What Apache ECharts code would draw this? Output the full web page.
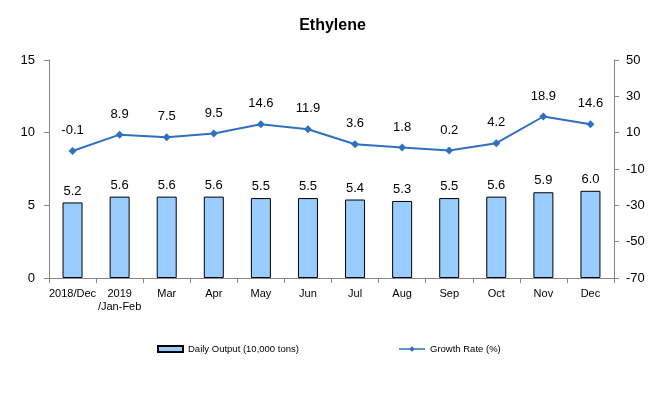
<!DOCTYPE html>
<html><head><meta charset="utf-8">
<script src="https://cdn.jsdelivr.net/npm/echarts@6/dist/echarts.min.js"></script>
<style>html,body{margin:0;padding:0;background:#fff}#c{width:665px;height:395px}</style>
</head><body><div id="c"></div>
<script>
const categories = ['2018/Dec','2019\n/Jan-Feb','Mar','Apr','May','Jun','Jul','Aug','Sep','Oct','Nov','Dec'];
const dailyOutput = [5.2,5.6,5.6,5.6,5.5,5.5,5.4,5.3,5.5,5.6,5.9,6.0];
const growthRate = [-0.1,8.9,7.5,9.5,14.6,11.9,3.6,1.8,0.2,4.2,18.9,14.6];
const leftTicks = {min:0,max:15,interval:5};
const rightTicks = {min:-70,max:50,interval:20};

const chart = echarts.init(document.getElementById('c'));
const font = 'Arial, "Liberation Sans", sans-serif';
const legendText = {fontSize:9.5,color:'#000',fontFamily:font};
chart.setOption({
  animation:false,
  textStyle:{fontFamily:font},
  title:{text:'Ethylene',left:'center',top:13,textStyle:{fontSize:16,fontWeight:'bold',color:'#000',fontFamily:font}},
  grid:{left:49,right:51,top:60,bottom:117},
  legend:[
    {top:344,left:157,itemWidth:25,itemHeight:6,itemGap:0,padding:0,textStyle:legendText,
     data:[{name:'Daily Output (10,000 tons)',icon:'rect'}]},
    {top:344,left:399,itemWidth:26,itemHeight:7,itemGap:0,padding:0,textStyle:legendText,
     data:[{name:'Growth Rate (%)',icon:'path://M0,3h11l2,-2l2,2h11v1.5h-11l-2,2l-2,-2h-11z'}]}
  ],
  xAxis:{type:'category',data:categories,
    axisLine:{lineStyle:{color:'#888'}},
    axisTick:{show:true,length:5,lineStyle:{color:'#888'}},
    axisLabel:{color:'#000',fontSize:11,margin:9,interval:0,lineHeight:13,fontFamily:font}},
  yAxis:[
    {type:'value',min:leftTicks.min,max:leftTicks.max,interval:leftTicks.interval,
     axisLine:{show:true,lineStyle:{color:'#888'}},axisTick:{show:true,length:5,lineStyle:{color:'#888'}},
     splitLine:{show:false},axisLabel:{color:'#000',fontSize:13,margin:14}},
    {type:'value',min:rightTicks.min,max:rightTicks.max,interval:rightTicks.interval,position:'right',
     axisLine:{show:true,lineStyle:{color:'#888'}},axisTick:{show:true,length:5,lineStyle:{color:'#888'}},
     splitLine:{show:false},axisLabel:{color:'#000',fontSize:13,margin:12}}
  ],
  series:[
    {name:'Daily Output (10,000 tons)',type:'bar',data:dailyOutput,barWidth:20,
     itemStyle:{color:'#99ccff',borderColor:'#000',borderWidth:1},
     label:{show:true,position:'top',distance:5,color:'#000',fontSize:13,formatter:p=>p.value.toFixed(1)}},
    {name:'Growth Rate (%)',type:'line',yAxisIndex:1,data:growthRate,
     symbol:'diamond',symbolSize:8,
     lineStyle:{color:'#3070c0',width:2},itemStyle:{color:'#3070c0'},
     label:{show:true,position:'top',distance:10,color:'#000',fontSize:13,formatter:p=>p.value.toFixed(1)}}
  ]
});
</script></body></html>
